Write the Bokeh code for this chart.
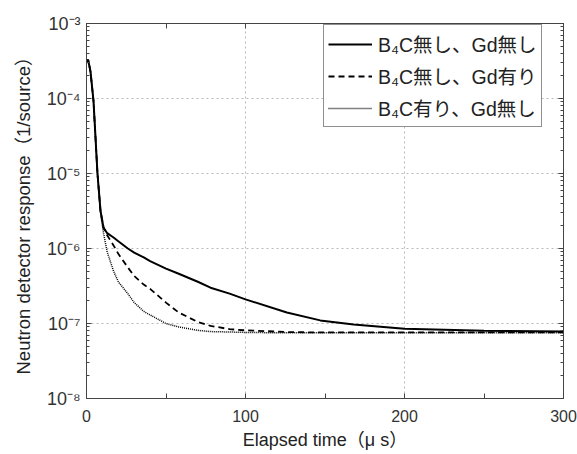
from bokeh.plotting import figure
from bokeh.models import (FixedTicker, LogAxis, LinearAxis, Legend, LegendItem,
                          CustomJSTickFormatter, LogTicker)
from bokeh.embed import file_html
from bokeh.resources import INLINE

# Data
t = [0, 1, 2.5, 4.4, 6.9, 8.8, 10.7, 13, 17, 20, 26, 30, 36, 40, 50, 58, 70, 78,
     90, 100, 126, 147, 168, 200, 250, 300]
no_b4c_no_gd = [3.0e-4, 3.3e-4, 2.3e-4, 9.3e-5, 1.0e-5, 3.2e-6, 1.9e-6, 1.6e-6,
                1.4e-6, 1.25e-6, 1.0e-6, 8.8e-7, 7.6e-7, 6.8e-7, 5.4e-7, 4.6e-7,
                3.6e-7, 3.0e-7, 2.5e-7, 2.1e-7, 1.4e-7, 1.1e-7, 9.7e-8, 8.5e-8,
                8.0e-8, 7.8e-8]
no_b4c_gd = [3.0e-4, 3.3e-4, 2.3e-4, 9.3e-5, 1.0e-5, 3.2e-6, 1.9e-6, 1.5e-6,
             1.1e-6, 8.5e-7, 5.6e-7, 4.3e-7, 3.3e-7, 2.9e-7, 1.9e-7, 1.4e-7,
             1.05e-7, 9.3e-8, 8.4e-8, 8.1e-8, 7.7e-8, 7.6e-8, 7.6e-8, 7.6e-8,
             7.6e-8, 7.6e-8]
b4c_no_gd = [3.0e-4, 3.3e-4, 2.3e-4, 9.3e-5, 1.0e-5, 3.0e-6, 1.6e-6, 9.0e-7,
             5.0e-7, 3.6e-7, 2.5e-7, 1.9e-7, 1.45e-7, 1.3e-7, 1.0e-7, 9.0e-8,
             8.1e-8, 7.8e-8, 7.7e-8, 7.6e-8, 7.5e-8, 7.5e-8, 7.5e-8, 7.5e-8,
             7.5e-8, 7.5e-8]
labels = ["B\u2084C無し、Gd無し", "B\u2084C無し、Gd有り", "B\u2084C有り、Gd無し"]
x_ticks = [0, 100, 200, 300]
x_minor = [50, 150, 250]

FONT = "'Liberation Sans', 'Noto Sans CJK JP', sans-serif"
AX = "#444444"

p = figure(width=577, height=454, x_range=(0, 300), y_range=(1e-8, 1e-3),
           y_axis_type="log", output_backend="svg", toolbar_location=None,
           min_border_left=86, min_border_right=14, min_border_top=23,
           min_border_bottom=56)
p.outline_line_color = AX
p.background_fill_color = "white"
p.border_fill_color = "white"

r1 = p.line(t, no_b4c_no_gd, line_color="black", line_width=2)
r2 = p.line(t, no_b4c_gd, line_color="black", line_width=1.8, line_dash="6 4")
r3 = p.line(t, b4c_no_gd, line_color="black", line_width=1.5, line_dash="1 1")

sup = CustomJSTickFormatter(code="""
const m = {'-':'\u207b','0':'\u2070','1':'\u00b9','2':'\u00b2','3':'\u00b3','4':'\u2074',
           '5':'\u2075','6':'\u2076','7':'\u2077','8':'\u2078','9':'\u2079'};
const e = Math.round(Math.log10(tick)).toString();
return '10' + e.split('').map(c => m[c]).join('');
""")

def style(ax):
    ax.axis_line_color = AX
    ax.major_tick_line_color = AX
    ax.minor_tick_line_color = AX
    ax.major_tick_in = 5
    ax.major_tick_out = 0
    ax.minor_tick_in = 3
    ax.minor_tick_out = 0
    ax.major_label_text_font = FONT
    ax.major_label_text_color = "#333333"
    ax.axis_label_text_font = FONT
    ax.axis_label_text_font_style = "normal"
    ax.axis_label_text_color = "#222222"

xa = p.xaxis[0]
xa.ticker = FixedTicker(ticks=x_ticks, minor_ticks=x_minor)
style(xa)
xa.minor_tick_in = 5
xa.major_label_text_font_size = "16px"
xa.major_label_standoff = 11
xa.axis_label = "Elapsed time（μ s）"
xa.axis_label_text_font_size = "18px"
xa.axis_label_standoff = 5

ya = p.yaxis[0]
ya.ticker = LogTicker(num_minor_ticks=10)
ya.formatter = sup
style(ya)
ya.major_label_text_font_size = "18px"
ya.major_label_standoff = 6
ya.axis_label = "Neutron detector response（1/source）"
ya.axis_label_text_font_size = "18.5px"
ya.axis_label_standoff = 10

top = LinearAxis(ticker=FixedTicker(ticks=x_ticks, minor_ticks=x_minor))
style(top)
top.minor_tick_in = 5
top.major_label_text_color = None
p.add_layout(top, "above")

right = LogAxis(ticker=LogTicker(num_minor_ticks=10))
style(right)
right.major_label_text_color = None
p.add_layout(right, "right")

p.xgrid.ticker = FixedTicker(ticks=[100, 200])
p.grid.grid_line_color = "#b8b8b8"
p.grid.grid_line_dash = "2 3"
p.grid.grid_line_width = 1
p.ygrid.ticker = FixedTicker(ticks=[1e-7, 1e-6, 1e-5, 1e-4])

legend = Legend(items=[LegendItem(label=labels[0], renderers=[r1]),
                       LegendItem(label=labels[1], renderers=[r2]),
                       LegendItem(label=labels[2], renderers=[r3])],
                location=(237, 271))
legend.label_text_font = FONT
legend.label_text_font_size = "19.5px"
legend.label_text_color = "#222222"
legend.border_line_color = "#222222"
legend.border_line_width = 1
legend.glyph_width = 44
legend.glyph_height = 24
legend.label_height = 24
legend.spacing = 3
legend.padding = 4
legend.label_standoff = 6
legend.background_fill_alpha = 1
p.add_layout(legend, "center")

open("out.html", "w").write(file_html(p, INLINE))
